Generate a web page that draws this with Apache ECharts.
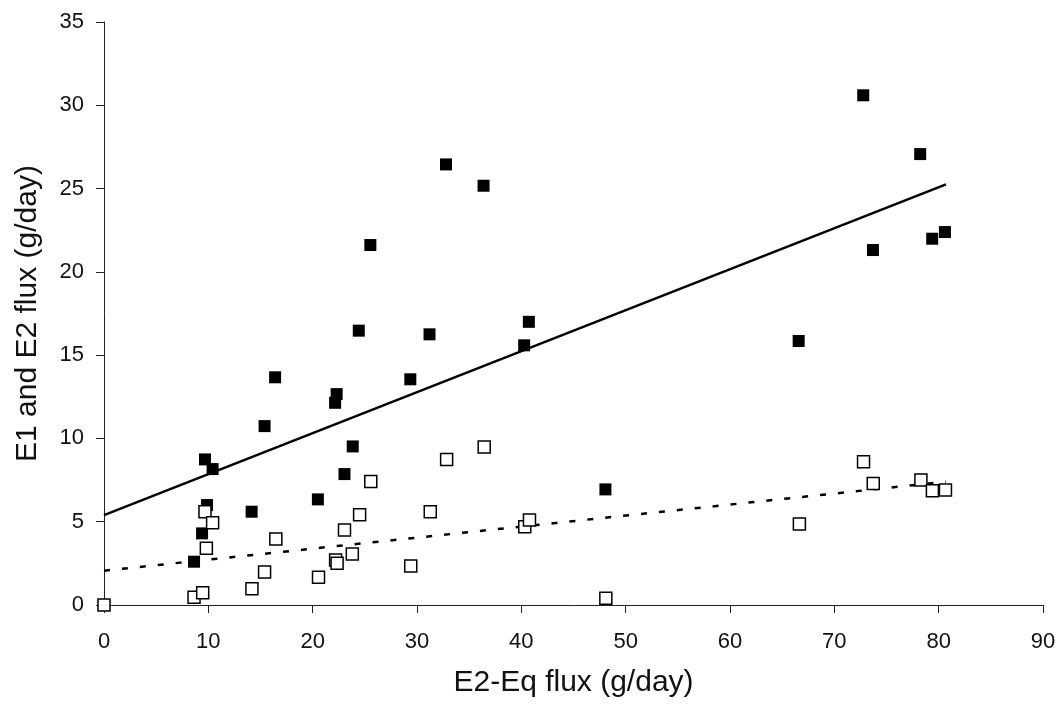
<!DOCTYPE html>
<html>
<head>
<meta charset="utf-8">
<script src="https://cdn.jsdelivr.net/npm/echarts@6/dist/echarts.min.js"></script>
<style>html,body{margin:0;padding:0;background:#fff}#c{width:1062px;height:706px}</style>
</head>
<body>
<div id="c"></div>
<script>
// E1 + E2 flux (filled squares) vs E2-Eq flux
const filledPoints = [
  [0,0],[8.63,2.6],[9.4,4.3],[9.87,6.0],[9.68,8.74],[10.41,8.16],[14.15,5.6],[15.39,10.74],
  [16.4,13.67],[20.5,6.34],[22.15,12.14],[22.3,12.66],[23.05,7.86],[23.84,9.52],
  [24.42,16.47],[25.53,21.61],[29.36,13.55],[31.2,16.25],[32.78,26.45],[36.38,25.17],
  [40.27,15.59],[40.72,17.0],[48.06,6.94],[66.58,15.85],[72.77,30.6],[73.7,21.31],
  [78.23,27.07],[79.38,21.99],[80.6,22.39]
];
// open squares
const openPoints = [
  [0,0],[8.63,0.46],[9.46,0.74],[9.81,3.4],[9.68,5.6],[10.41,4.94],[14.18,0.98],[15.39,1.98],
  [16.47,3.96],[20.56,1.66],[22.2,2.7],[22.34,2.5],[23.05,4.5],[23.8,3.06],[24.5,5.42],
  [25.57,7.42],[29.4,2.34],[31.27,5.6],[32.84,8.74],[36.44,9.48],[40.33,4.7],[40.78,5.1],
  [48.1,0.4],[66.65,4.86],[72.8,8.6],[73.73,7.3],[78.3,7.5],[79.4,6.86],[80.65,6.9]
];
// trend lines (endpoints)
const solidTrend = [[0,5.4],[80.7,25.25]];
const dashedTrend = [[0,2.06],[80.7,7.4]];

const xTicks = {min:0, max:90, interval:10};
const yTicks = {min:0, max:35, interval:5};
const xTitle = 'E2-Eq flux (g/day)';
const yTitle = 'E1 and E2 flux (g/day)';

const font = 'Liberation Sans, Arial, sans-serif';
const axisCommon = {
  axisLine:{show:true, lineStyle:{color:'#222', width:1}},
  axisTick:{show:true, inside:false, length:8, lineStyle:{color:'#222'}},
  splitLine:{show:false},
  nameLocation:'middle',
  nameTextStyle:{fontFamily:font, fontSize:30, color:'#111'}
};
const chart = echarts.init(document.getElementById('c'));
chart.setOption({
  animation:false,
  backgroundColor:'#fff',
  grid:{left:104, right:19, top:22, bottom:101, containLabel:false},
  xAxis:Object.assign({}, axisCommon, {
    type:'value', min:xTicks.min, max:xTicks.max, interval:xTicks.interval,
    name:xTitle, nameGap:63,
    axisLabel:{fontFamily:font, fontSize:22, color:'#111', margin:26}
  }),
  yAxis:Object.assign({}, axisCommon, {
    type:'value', min:yTicks.min, max:yTicks.max, interval:yTicks.interval,
    name:yTitle, nameGap:61,
    axisLabel:{fontFamily:font, fontSize:22, color:'#111', margin:20}
  }),
  series:[
    {type:'line', data:solidTrend, symbol:'none', lineStyle:{color:'#000', width:2.5}, z:1},
    {type:'line', data:dashedTrend, symbol:'none', lineStyle:{color:'#000', width:2.5, type:[6,12]}, z:1},
    {type:'scatter', data:filledPoints, symbol:'rect', symbolSize:12,
     itemStyle:{color:'#000', borderColor:'#000', borderWidth:0, opacity:1}, z:2},
    {type:'scatter', data:openPoints, symbol:'rect', symbolSize:12,
     itemStyle:{color:'#fff', borderColor:'#000', borderWidth:1.5, opacity:1}, z:3}
  ]
});
</script>
</body>
</html>
